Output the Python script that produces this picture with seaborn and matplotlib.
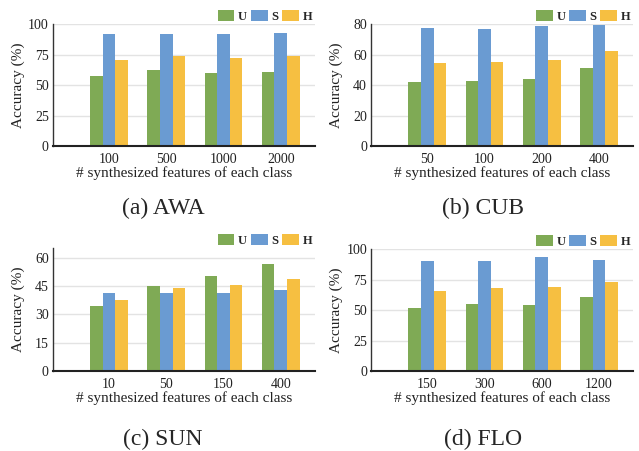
import matplotlib
matplotlib.use("Agg")
import matplotlib.pyplot as plt
import pandas as pd
import seaborn as sns
from matplotlib.patches import Patch

# values (accuracy in %)
awa_feats = ["100", "500", "1000", "2000"]
awa_u = [57.3, 62.2, 60.0, 60.8]
awa_s = [92.0, 92.0, 92.0, 92.9]
awa_h = [70.4, 74.0, 72.1, 74.0]

cub_feats = ["50", "100", "200", "400"]
cub_u = [42.1, 42.7, 44.1, 51.1]
cub_s = [77.4, 76.7, 78.7, 79.6]
cub_h = [54.4, 55.0, 56.3, 62.2]

sun_feats = ["10", "50", "150", "400"]
sun_u = [34.4, 45.1, 50.4, 56.8]
sun_s = [41.4, 41.4, 41.4, 43.0]
sun_h = [37.6, 43.7, 45.6, 48.8]

flo_feats = ["150", "300", "600", "1200"]
flo_u = [51.5, 54.8, 54.0, 60.5]
flo_s = [90.1, 90.1, 93.4, 91.0]
flo_h = [65.5, 67.9, 68.8, 72.9]

metrics = ["U", "S", "H"]
colors = {"U": "#7faa55", "S": "#6a9bd2", "H": "#f6bf41"}

sns.set_theme(style="white")
plt.rcParams["font.family"] = ["Liberation Serif", "DejaVu Serif"]


def long_table(feats, u, s, h):
    rows = []
    for name, vals in zip(metrics, [u, s, h]):
        for f, v in zip(feats, vals):
            rows.append({"feat": f, "metric": name, "acc": v})
    return pd.DataFrame(rows)


def draw_panel(ax, feats, u, s, h, ymax, yticks):
    df = long_table(feats, u, s, h)
    sns.barplot(data=df, x="feat", y="acc", hue="metric", order=feats,
                hue_order=metrics, palette=colors, width=0.66, gap=0,
                saturation=1, linewidth=0, ax=ax, legend=False)
    ax.set_xlim(-0.98, 3.6)
    ax.set_ylim(0, ymax)
    ax.set_yticks(yticks)
    ax.yaxis.grid(True, color="#e3e3e3", linewidth=1.0)
    ax.set_axisbelow(True)
    for side in ["top", "right"]:
        ax.spines[side].set_visible(False)
    ax.spines["left"].set_color("#333333")
    ax.spines["left"].set_linewidth(1.0)
    ax.spines["bottom"].set_color("#222222")
    ax.spines["bottom"].set_linewidth(1.5)
    ax.tick_params(axis="y", length=0, labelsize=10, pad=3, colors="#222222")
    ax.tick_params(axis="x", direction="in", length=3, width=1, color="#333333",
                   labelsize=10, pad=5, labelcolor="#222222")
    ax.set_xlabel("# synthesized features of each class", fontsize=11,
                  labelpad=0, color="#222222")
    ax.set_ylabel("Accuracy (%)", fontsize=11, color="#222222")
    ax.yaxis.set_label_coords(-0.107, 0.5)
    handles = [Patch(facecolor=colors[m], edgecolor="none", label=m)
               for m in metrics]
    leg = ax.legend(handles=handles, loc="lower right", ncol=3,
                    bbox_to_anchor=(1.0, 0.99), frameon=False, fontsize=9,
                    handlelength=1.35, handleheight=0.9, handletextpad=0.3,
                    columnspacing=0.3, borderaxespad=0.0, borderpad=0.2)
    for t in leg.get_texts():
        t.set_fontweight("bold")


fig = plt.figure(figsize=(6.39, 4.51), dpi=100)
ax_a = fig.add_axes([0.083, 0.676, 0.410, 0.2705])
ax_b = fig.add_axes([0.581, 0.676, 0.410, 0.2705])
ax_c = fig.add_axes([0.083, 0.177, 0.410, 0.2727])
ax_d = fig.add_axes([0.581, 0.177, 0.410, 0.2705])

draw_panel(ax_a, awa_feats, awa_u, awa_s, awa_h, 100, [0, 25, 50, 75, 100])
draw_panel(ax_b, cub_feats, cub_u, cub_s, cub_h, 80, [0, 20, 40, 60, 80])
draw_panel(ax_c, sun_feats, sun_u, sun_s, sun_h, 65, [0, 15, 30, 45, 60])
draw_panel(ax_d, flo_feats, flo_u, flo_s, flo_h, 100, [0, 25, 50, 75, 100])

fig.text(163 / 639, 1 - 208 / 451, "(a) AWA", ha="center", va="center", fontsize=17)
fig.text(483 / 639, 1 - 208 / 451, "(b) CUB", ha="center", va="center", fontsize=17)
fig.text(163 / 639, 1 - 439 / 451, "(c) SUN", ha="center", va="center", fontsize=17)
fig.text(483 / 639, 1 - 439 / 451, "(d) FLO", ha="center", va="center", fontsize=17)

fig.savefig("out.png", dpi=100, facecolor="white")
